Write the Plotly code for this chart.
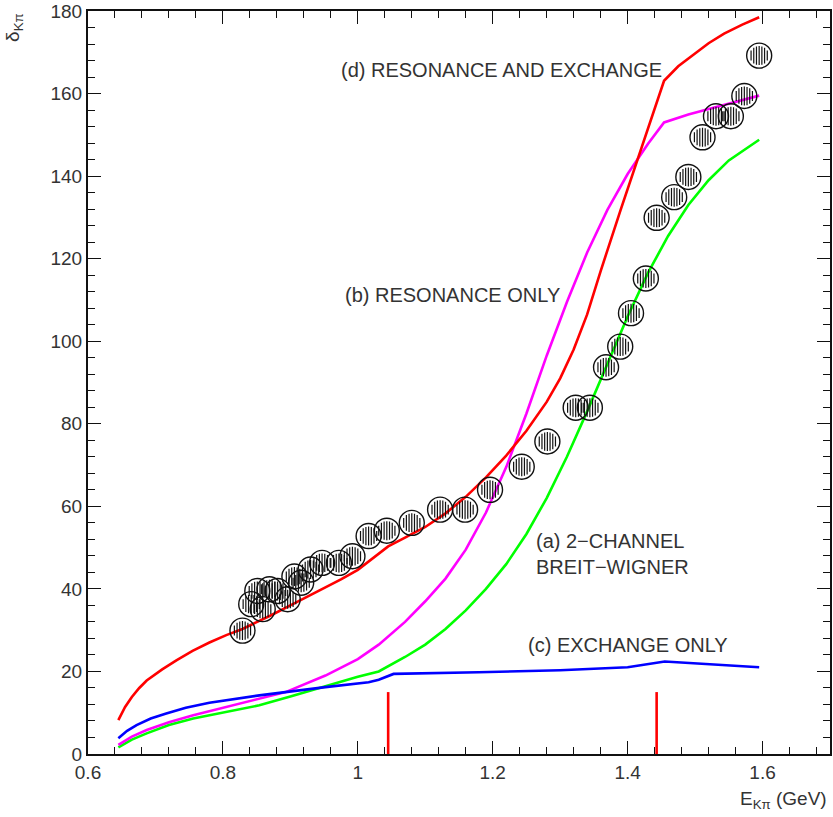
import numpy as np
import plotly.graph_objects as go

# ---- data ----
pts_x = [0.829, 0.842, 0.851, 0.859, 0.869, 0.881, 0.896, 0.906, 0.916, 0.930, 0.947, 0.972,
         0.992, 1.016, 1.043, 1.080, 1.122, 1.159, 1.196, 1.243, 1.281, 1.323, 1.344, 1.368,
         1.389, 1.405, 1.427, 1.443, 1.469, 1.490, 1.511, 1.531, 1.553, 1.573, 1.595]
pts_y = [29.9, 36.3, 39.5, 35.1, 39.9, 39.5, 37.5, 43.0, 41.5, 44.7, 46.3, 46.3,
         47.9, 52.8, 54.1, 56.0, 59.2, 59.2, 64.0, 69.6, 75.7, 83.9, 83.9, 93.7,
         98.7, 106.8, 115.2, 129.9, 134.9, 139.8, 149.4, 154.5, 154.5, 159.4, 169.2]

# (d) resonance and exchange
d_x = [0.645, 0.655, 0.665, 0.676, 0.687, 0.71, 0.731, 0.755, 0.78, 0.805, 0.829, 0.87, 0.913,
       0.95, 0.975, 1.0, 1.045, 1.07, 1.10, 1.13, 1.16, 1.19, 1.22, 1.25, 1.28, 1.30, 1.32,
       1.34, 1.36, 1.39, 1.42, 1.454, 1.475, 1.499, 1.52, 1.543, 1.57, 1.595]
d_y = [8.2, 11.4, 13.8, 16.0, 17.8, 20.5, 22.7, 25.0, 27.0, 28.8, 30.3, 33.5, 37.1,
       40.2, 42.3, 44.6, 50.3, 52.4, 55.0, 58.3, 62.3, 67.0, 72.3, 78.3, 85.3, 91.0, 98.0,
       106.5, 117.0, 132.0, 146.5, 163.1, 166.6, 169.6, 172.2, 174.5, 176.7, 178.5]

# (b) resonance only
b_x = [0.645, 0.665, 0.687, 0.72, 0.756, 0.815, 0.893, 0.952, 1.0, 1.031, 1.07, 1.1, 1.13,
       1.16, 1.19, 1.22, 1.25, 1.28, 1.31, 1.34, 1.37, 1.40, 1.43, 1.454, 1.49, 1.523, 1.56, 1.595]
b_y = [2.2, 4.2, 5.8, 7.7, 9.4, 11.8, 15.0, 19.0, 23.0, 26.5, 32.0, 37.0, 42.5,
       49.5, 58.5, 69.5, 82.5, 96.5, 109.5, 121.5, 131.8, 140.5, 147.8, 153.0, 154.9, 156.4, 158.0, 159.5]

# (a) 2-channel Breit-Wigner
a_x = [0.645, 0.665, 0.687, 0.72, 0.756, 0.80, 0.854, 0.90, 0.952, 1.0, 1.031, 1.07, 1.1,
       1.13, 1.16, 1.19, 1.22, 1.25, 1.28, 1.31, 1.34, 1.37, 1.40, 1.43, 1.46, 1.49, 1.52,
       1.55, 1.595]
a_y = [1.6, 3.5, 5.0, 7.0, 8.6, 10.0, 11.8, 13.9, 16.4, 18.7, 20.0, 23.5, 26.5,
       30.3, 34.8, 40.0, 46.0, 53.3, 62.0, 72.0, 83.0, 94.5, 106.0, 116.5, 125.5, 133.0, 139.0,
       143.8, 148.8]

# (c) exchange only
c_x = [0.645, 0.658, 0.672, 0.693, 0.716, 0.745, 0.78, 0.854, 0.952, 1.016, 1.031, 1.053,
       1.179, 1.3, 1.4, 1.455, 1.595]
c_y = [3.8, 5.6, 7.0, 8.6, 9.8, 11.2, 12.4, 14.2, 16.2, 17.4, 18.0, 19.4,
       19.8, 20.3, 21.0, 22.4, 21.0]

mark_x = [1.045, 1.443]
mark_h = [15.0, 15.0]

x_ticks = [0.6, 0.8, 1.0, 1.2, 1.4, 1.6]
x_ticktext = ["0.6", "0.8", "1", "1.2", "1.4", "1.6"]
y_ticks = [0, 20, 40, 60, 80, 100, 120, 140, 160, 180]
y_ticktext = [str(v) for v in y_ticks]

labels = [
    ("(d) RESONANCE AND EXCHANGE", 0.972, 165.8),
    ("(b) RESONANCE ONLY", 0.978, 111.3),
    ("(a) 2\u2212CHANNEL<br>BREIT\u2212WIGNER", 1.261, 48.4),
    ("(c) EXCHANGE ONLY", 1.250, 26.5),
]

FONT = "Liberation Sans"
TXT = "#333333"

fig = go.Figure()

for xs, ys, col in [(a_x, a_y, "#00ff00"), (b_x, b_y, "#ff00ff"),
                    (c_x, c_y, "#0000ff"), (d_x, d_y, "#ff0000")]:
    fig.add_trace(go.Scatter(x=xs, y=ys, mode="lines", line=dict(color=col, width=2.6),
                             showlegend=False, hoverinfo="skip"))

# red vertical markers
vx, vy = [], []
for mx, mh in zip(mark_x, mark_h):
    vx += [mx, mx, None]
    vy += [0, mh, None]
fig.add_trace(go.Scatter(x=vx, y=vy, mode="lines", line=dict(color="#ff0000", width=2.6),
                         showlegend=False, hoverinfo="skip"))

# data points (open circles)
fig.add_trace(go.Scatter(x=pts_x, y=pts_y, mode="markers",
                         marker=dict(symbol="circle", size=25, color="rgba(0,0,0,0)",
                                     line=dict(color="#111111", width=1.4)),
                         showlegend=False))

# vertical hatching inside each circle
R = 9.5
offs = np.arange(-3, 4) * 2.7
hpath = ""
for dx in offs:
    h = np.sqrt(R * R - dx * dx)
    hpath += f"M{dx:.2f},{-h:.2f} L{dx:.2f},{h:.2f} "
shapes = []
for px, py in zip(pts_x, pts_y):
    shapes.append(dict(type="path", xref="x", yref="y", xsizemode="pixel", ysizemode="pixel",
                       xanchor=px, yanchor=py, path=hpath.strip(),
                       line=dict(color="#111111", width=1.2), layer="above"))

annotations = []
for txt, lx, ly in labels:
    annotations.append(dict(text=txt, x=lx, y=ly, xref="x", yref="y", xanchor="left",
                            yanchor="middle", showarrow=False, align="left",
                            font=dict(family=FONT, size=20, color=TXT)))
annotations.append(dict(text="δ<sub>Kπ</sub>", x=-0.099, y=0.978, xref="paper", yref="paper",
                        textangle=-90, showarrow=False, xanchor="center", yanchor="middle",
                        font=dict(family=FONT, size=19, color=TXT)))
annotations.append(dict(text="E<sub>Kπ</sub> (GeV)", x=0.998, y=-0.062, xref="paper", yref="paper",
                        showarrow=False, xanchor="right", yanchor="middle",
                        font=dict(family=FONT, size=19, color=TXT)))

axis_common = dict(showline=True, linecolor="#111111", linewidth=2, mirror="ticks",
                   ticks="inside", ticklen=13, tickwidth=1.3, tickcolor="#111111",
                   showgrid=False, zeroline=False, ticklabeloverflow="allow",
                   tickfont=dict(family=FONT, size=19, color=TXT))

fig.update_layout(
    width=833, height=817, autosize=False,
    margin=dict(l=88, r=1, t=7, b=63),
    paper_bgcolor="white", plot_bgcolor="white",
    xaxis=dict(range=[0.6, 1.7], tickvals=x_ticks, ticktext=x_ticktext,
               minor=dict(dtick=0.04, tick0=0.6, ticks="inside", ticklen=7, tickcolor="#111111",
                          tickwidth=1.1, showgrid=False),
               **axis_common),
    yaxis=dict(range=[0, 180], tickvals=y_ticks, ticktext=y_ticktext,
               minor=dict(dtick=4, tick0=0, ticks="inside", ticklen=7, tickcolor="#111111",
                          tickwidth=1.1, showgrid=False),
               **axis_common),
    shapes=shapes,
    annotations=annotations,
)

fig.write_html("out.html")
